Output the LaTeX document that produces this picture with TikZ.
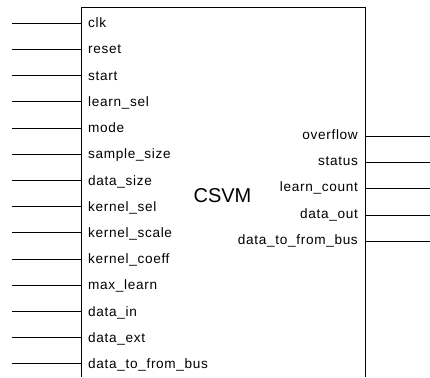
\documentclass[tikz,border=0pt]{standalone}
\usepackage{fontspec}
\setmainfont{Liberation Sans}
\newfontfamily\portfont[LetterSpace=5]{Liberation Sans}
\begin{document}
\begin{tikzpicture}[x=1pt,y=-1pt,
  port/.style={font=\portfont\fontsize{13.6}{15}\selectfont, inner sep=0pt},
  wire/.style={line width=1pt},
  boxline/.style={line width=0.9pt}]
\useasboundingbox (0,0) rectangle (430,377);
\draw[boxline] (81,377) -- (81,7.5) -- (365.5,7.5) -- (365.5,377);
\node[font=\fontsize{20}{24}\selectfont, inner sep=0pt] (title) at (222.5,196) {CSVM};
\foreach \t [count=\i from 0] in {clk,reset,start,learn\_sel,mode,sample\_size,data\_size,kernel\_sel,kernel\_scale,kernel\_coeff,max\_learn,data\_in,data\_ext,data\_to\_from\_bus}{
  \pgfmathsetmacro{\yy}{23.3+26.2*\i}
  \coordinate (lw\i) at (12,\yy);
  \coordinate (lp\i) at (81,\yy);
  \node[port, anchor=base west] (ln\i) at (88,\yy+4.5) {\t};
  \draw[wire] (lw\i) -- (lp\i);
}
\foreach \t [count=\i from 0] in {overflow,status,learn\_count,data\_out,data\_to\_from\_bus}{
  \pgfmathsetmacro{\yy}{136+26.4*\i}
  \coordinate (rp\i) at (365.5,\yy);
  \coordinate (rw\i) at (430,\yy);
  \node[port, anchor=base east] (rn\i) at (358,\yy+3) {\t};
  \draw[wire] (rp\i) -- (rw\i);
}
\end{tikzpicture}
\end{document}
